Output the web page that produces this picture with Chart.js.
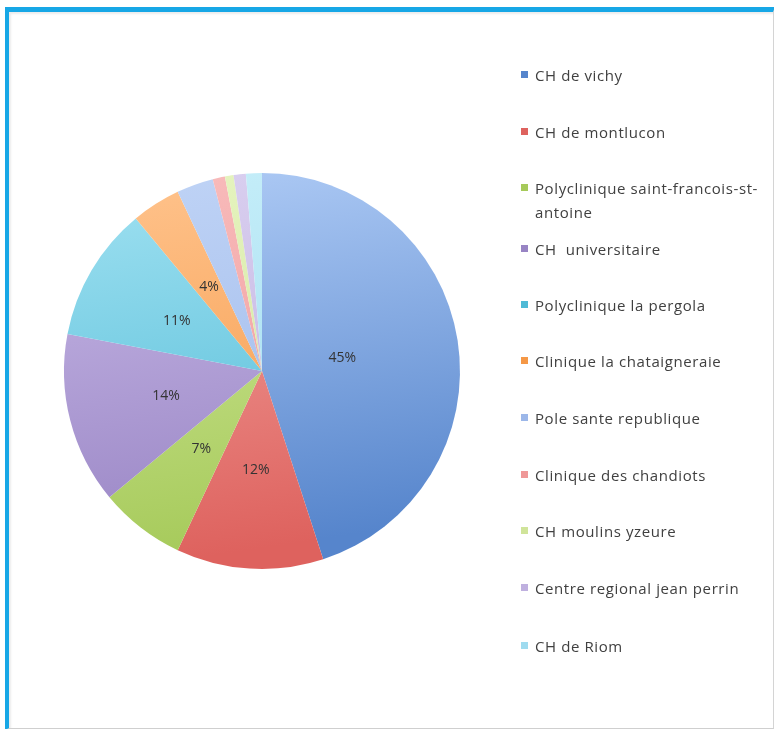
<!DOCTYPE html>
<html>
<head>
<meta charset="utf-8">
<script src="https://cdn.jsdelivr.net/npm/chart.js@4.4.1/dist/chart.umd.min.js"></script>
<style>
  html, body { margin: 0; padding: 0; background: #fff; }
  body { width: 774px; height: 729px; position: relative; overflow: hidden; font-family: "Open Sans", Lato, sans-serif; }
  #frame {
    position: absolute; left: 5px; top: 7px; width: 764px; height: 716px;
    border-top: 5px solid #17a7e6; border-left: 4px solid #17a7e6;
    border-right: 2px solid #d4d4d4; border-bottom: 2px solid #cfcfcf;
    box-shadow: inset 2px 2px 2px rgba(0,0,0,0.08);
  }
  #wrap { position: absolute; left: 0; top: 0; width: 774px; height: 729px; }
  #legend { position: absolute; left: 521px; top: 0; }
  .item { position: absolute; left: 0; white-space: pre; font-size: 15px; letter-spacing: 0.6px; color: #404040; line-height: 24px; }
  .box { position: absolute; left: 0; width: 7px; height: 7px; }
  .txt { position: absolute; left: 14px; }
</style>
</head>
<body>
<div id="frame"></div>
<div id="wrap"><canvas id="myPieChart" width="774" height="729"></canvas></div>
<div id="legend"></div>
<script>
const labels = [
  "CH de vichy",
  "CH de montlucon",
  "Polyclinique saint-francois-st-antoine",
  "CH  universitaire",
  "Polyclinique la pergola",
  "Clinique la chataigneraie",
  "Pole sante republique",
  "Clinique des chandiots",
  "CH moulins yzeure",
  "Centre regional jean perrin",
  "CH de Riom"
];
const shares = [45, 12, 7, 14, 11, 4, 3, 1, 0.7, 1, 1.3];
const baseColors = ["#5685cc", "#de625e", "#a6ca5a", "#9884c4", "#4fbad6", "#f59846",
                    "#9cb7e9", "#ef9898", "#d0e49a", "#bfb0df", "#9fdbef"];
const lightColors = ["#b0ccf6", "#f4aaa6", "#d4eaa0", "#cabbe8", "#a2e2f2", "#ffc48e",
                     "#c0d4f6", "#f8bcbc", "#e6f4c0", "#dad0f0", "#c6eef9"];
const legendLines = [
  ["CH de vichy"],
  ["CH de montlucon"],
  ["Polyclinique saint-francois-st-", "antoine"],
  ["CH  universitaire"],
  ["Polyclinique la pergola"],
  ["Clinique la chataigneraie"],
  ["Pole sante republique"],
  ["Clinique des chandiots"],
  ["CH moulins yzeure"],
  ["Centre regional jean perrin"],
  ["CH de Riom"]
];
const legendY = [75, 132, 188, 249, 305, 361, 418, 475, 531, 588, 646];

// legend on the right
const legend = document.getElementById("legend");
legendLines.forEach(function (lines, i) {
  const item = document.createElement("div");
  item.className = "item";
  item.style.top = (legendY[i] - 12) + "px";
  const box = document.createElement("div");
  box.className = "box";
  box.style.top = "8px";
  box.style.background = baseColors[i];
  const txt = document.createElement("div");
  txt.className = "txt";
  txt.textContent = lines.join("\n");
  item.appendChild(box);
  item.appendChild(txt);
  legend.appendChild(item);
});

function sliceFill(context) {
  const chart = context.chart;
  const area = chart.chartArea;
  const i = context.dataIndex;
  if (!area) return baseColors[i];
  const g = chart.ctx.createLinearGradient(area.left, area.top, area.left + 60, area.bottom);
  g.addColorStop(0, lightColors[i]);
  g.addColorStop(1, baseColors[i]);
  return g;
}

const pctLabels = {
  id: "pctLabels",
  afterDatasetsDraw(chart) {
    const ctx = chart.ctx;
    const meta = chart.getDatasetMeta(0);
    const total = shares.reduce((a, b) => a + b, 0);
    ctx.save();
    ctx.font = "14px 'Open Sans', Lato, sans-serif";
    ctx.fillStyle = "#333";
    ctx.textAlign = "center";
    ctx.textBaseline = "middle";
    meta.data.forEach(function (arc, i) {
      const pct = Math.round(shares[i] / total * 100);
      if (pct < 4) return;
      const mid = (arc.startAngle + arc.endAngle) / 2;
      const r = arc.outerRadius * (pct > 30 ? 0.41 : 0.5);
      ctx.fillText(pct + "%", arc.x + Math.cos(mid) * r, arc.y + Math.sin(mid) * r);
    });
    ctx.restore();
  }
};

new Chart(document.getElementById("myPieChart").getContext("2d"), {
  type: "pie",
  data: {
    labels: labels,
    datasets: [{
      data: shares,
      backgroundColor: sliceFill,
      borderWidth: 0
    }]
  },
  options: {
    responsive: false,
    animation: false,
    layout: { padding: { left: 64, right: 314, top: 173, bottom: 160 } },
    plugins: {
      legend: { display: false },
      tooltip: { enabled: false }
    }
  },
  plugins: [pctLabels]
});
</script>
</body>
</html>
